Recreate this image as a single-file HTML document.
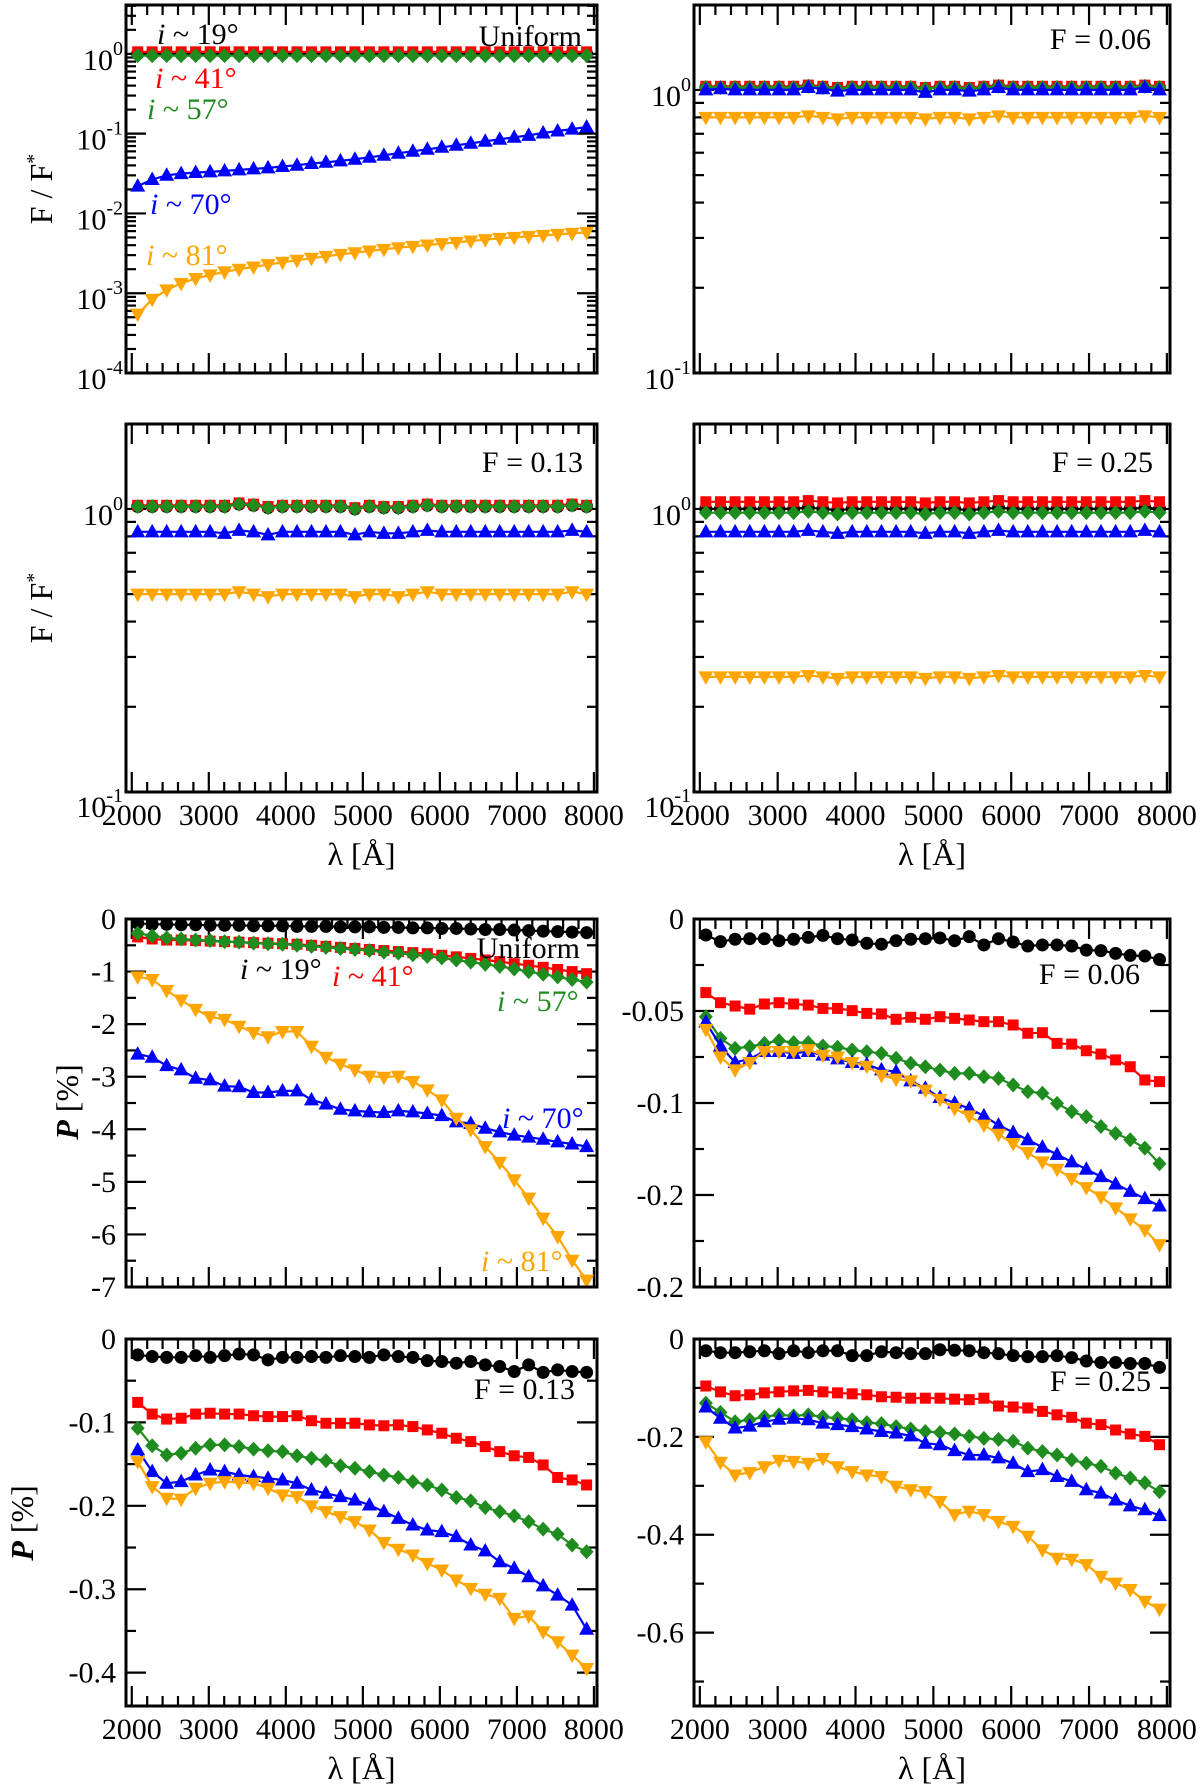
<!DOCTYPE html>
<html><head><meta charset="utf-8">
<style>
html,body{margin:0;padding:0;background:#fff;}
svg{display:block;font-family:"Liberation Serif",serif;}
</style></head>
<body>
<svg id="fig" width="1200" height="1786" viewBox="0 0 1200 1786" xmlns="http://www.w3.org/2000/svg"></svg>
<script>
// ---------- data ----------
const lambdas = [2077,2265,2453,2641,2829,3017,3205,3393,3581,3769,3957,4145,4333,4521,4709,4897,5085,5273,5461,5649,5837,6025,6213,6401,6589,6777,6965,7153,7341,7529,7717,7905];
const seriesNames = ["i19","i41","i57","i70","i81"];
const xTicks = [2000,3000,4000,5000,6000,7000,8000];

// Panel A: flux, uniform
const fluxUniBlack = [1,1,1,1,1,1,1,1,1,1,1,1,1,1,1,1,1,1,1,1,1,1,1,1,1,1,1,1,1,1,1,1];
const fluxUniRed = [1.06,1.06,1.06,1.06,1.06,1.06,1.06,1.06,1.06,1.06,1.06,1.06,1.06,1.06,1.06,1.06,1.06,1.06,1.06,1.06,1.06,1.06,1.06,1.06,1.06,1.06,1.06,1.06,1.06,1.06,1.06,1.06];
const fluxUniGreen = [0.95,0.95,0.95,0.95,0.95,0.95,0.95,0.95,0.95,0.95,0.95,0.95,0.95,0.95,0.95,0.95,0.95,0.95,0.95,0.95,0.95,0.95,0.95,0.95,0.95,0.95,0.95,0.95,0.95,0.95,0.95,0.95];
const fluxUniBlue = [0.0220,0.0266,0.0301,0.0316,0.0326,0.0332,0.0341,0.0351,0.0362,0.0372,0.0387,0.0402,0.0422,0.0438,0.0455,0.0478,0.0506,0.0536,0.0568,0.0601,0.0637,0.0675,0.0715,0.0757,0.0802,0.0850,0.0900,0.0953,0.102,0.108,0.114,0.121];
const fluxUniOrange = [0.000546,0.000841,0.00110,0.00133,0.00153,0.00169,0.00185,0.00200,0.00213,0.00228,0.00244,0.00259,0.00274,0.00290,0.00307,0.00322,0.00338,0.00355,0.00372,0.00387,0.00402,0.00418,0.00434,0.00451,0.00469,0.00487,0.00501,0.00516,0.00531,0.00546,0.00562,0.00579];

// Panel B: flux, F=0.06
const flux06Black = [1.02,1.02,1.02,1.02,1.02,1.02,1.02,1.03,1.02,1.01,1.02,1.02,1.02,1.02,1.02,1.01,1.02,1.02,1.01,1.02,1.03,1.02,1.02,1.02,1.02,1.02,1.02,1.02,1.02,1.02,1.03,1.02];
const flux06Red = [1.03,1.03,1.03,1.03,1.03,1.03,1.03,1.04,1.03,1.02,1.03,1.03,1.03,1.03,1.03,1.02,1.03,1.03,1.02,1.03,1.04,1.03,1.03,1.03,1.03,1.03,1.03,1.03,1.03,1.03,1.04,1.03];
const flux06Green = [1.02,1.02,1.02,1.02,1.02,1.02,1.02,1.03,1.02,1.01,1.02,1.02,1.02,1.02,1.02,1.01,1.02,1.02,1.01,1.02,1.03,1.02,1.02,1.02,1.02,1.02,1.02,1.02,1.02,1.02,1.03,1.02];
const flux06Blue = [1.00,1.01,1.00,1.00,1.00,1.00,1.00,1.02,1.01,0.99,1.00,1.00,1.00,1.00,1.00,0.98,1.00,1.00,0.99,1.00,1.02,1.00,1.00,1.00,1.00,1.00,1.00,1.00,1.00,1.00,1.02,1.00];
const flux06Orange = [0.80,0.80,0.80,0.80,0.80,0.80,0.80,0.81,0.80,0.79,0.80,0.80,0.80,0.80,0.80,0.79,0.80,0.80,0.79,0.80,0.81,0.80,0.80,0.80,0.80,0.80,0.80,0.80,0.80,0.80,0.81,0.80];

// Panel C: flux, F=0.13
const flux13Black = [1.02,1.02,1.02,1.02,1.02,1.02,1.02,1.04,1.03,1.01,1.02,1.02,1.02,1.02,1.02,1.00,1.02,1.01,1.01,1.02,1.03,1.02,1.02,1.02,1.02,1.02,1.02,1.02,1.02,1.02,1.03,1.02];
const flux13Red = [1.03,1.03,1.03,1.03,1.03,1.03,1.03,1.05,1.04,1.02,1.03,1.03,1.03,1.03,1.03,1.01,1.03,1.02,1.02,1.03,1.04,1.03,1.03,1.03,1.03,1.03,1.03,1.03,1.03,1.03,1.04,1.03];
const flux13Green = [1.02,1.02,1.02,1.02,1.02,1.02,1.02,1.04,1.03,1.01,1.02,1.02,1.02,1.02,1.02,1.00,1.02,1.01,1.01,1.02,1.03,1.02,1.02,1.02,1.02,1.02,1.02,1.02,1.02,1.02,1.03,1.02];
const flux13Blue = [0.83,0.83,0.83,0.83,0.83,0.83,0.82,0.84,0.83,0.81,0.83,0.83,0.83,0.83,0.83,0.81,0.83,0.82,0.82,0.83,0.84,0.83,0.83,0.83,0.83,0.83,0.83,0.83,0.83,0.83,0.84,0.83];
const flux13Orange = [0.50,0.50,0.50,0.50,0.50,0.50,0.50,0.51,0.50,0.49,0.50,0.50,0.50,0.50,0.50,0.49,0.50,0.50,0.49,0.50,0.51,0.50,0.50,0.50,0.50,0.50,0.50,0.50,0.50,0.50,0.51,0.50];

// Panel D: flux, F=0.25
const flux25Black = [1.00,1.00,1.00,1.00,1.00,1.00,1.00,1.01,1.00,0.99,1.00,1.00,1.00,1.00,1.00,0.99,1.00,1.00,0.99,1.00,1.01,1.00,1.00,1.00,1.00,1.00,1.00,1.00,1.00,1.00,1.01,1.00];
const flux25Red = [1.06,1.06,1.06,1.06,1.06,1.06,1.06,1.07,1.06,1.05,1.06,1.06,1.06,1.06,1.06,1.05,1.06,1.06,1.05,1.06,1.07,1.06,1.06,1.06,1.06,1.06,1.06,1.06,1.06,1.06,1.07,1.06];
const flux25Green = [0.97,0.97,0.97,0.97,0.97,0.97,0.97,0.98,0.97,0.96,0.97,0.97,0.97,0.97,0.97,0.96,0.97,0.97,0.96,0.97,0.98,0.97,0.97,0.97,0.97,0.97,0.97,0.97,0.97,0.97,0.98,0.97];
const flux25Blue = [0.83,0.83,0.83,0.83,0.83,0.83,0.83,0.84,0.83,0.82,0.83,0.83,0.83,0.83,0.83,0.82,0.83,0.83,0.82,0.83,0.84,0.83,0.83,0.83,0.83,0.83,0.83,0.83,0.83,0.83,0.84,0.83];
const flux25Orange = [0.255,0.255,0.255,0.255,0.255,0.255,0.255,0.258,0.255,0.252,0.255,0.255,0.255,0.255,0.255,0.252,0.255,0.255,0.252,0.255,0.258,0.255,0.255,0.255,0.255,0.255,0.255,0.255,0.255,0.255,0.258,0.255];

// Panel E: polarization, uniform
const polUniBlack = [-0.08,-0.10,-0.10,-0.11,-0.11,-0.12,-0.12,-0.12,-0.13,-0.13,-0.13,-0.14,-0.14,-0.14,-0.15,-0.15,-0.15,-0.16,-0.16,-0.17,-0.17,-0.18,-0.18,-0.19,-0.20,-0.20,-0.21,-0.22,-0.23,-0.24,-0.25,-0.26];
const polUniRed = [-0.34,-0.38,-0.40,-0.40,-0.41,-0.42,-0.43,-0.44,-0.45,-0.46,-0.47,-0.48,-0.50,-0.52,-0.54,-0.56,-0.58,-0.60,-0.62,-0.64,-0.66,-0.69,-0.72,-0.75,-0.78,-0.81,-0.85,-0.88,-0.92,-0.96,-1.00,-1.04];
const polUniGreen = [-0.27,-0.32,-0.36,-0.38,-0.40,-0.41,-0.43,-0.44,-0.46,-0.47,-0.48,-0.50,-0.52,-0.54,-0.56,-0.58,-0.60,-0.63,-0.65,-0.68,-0.71,-0.74,-0.78,-0.82,-0.86,-0.90,-0.95,-1.00,-1.05,-1.10,-1.15,-1.20];
const polUniBlue = [-2.57,-2.63,-2.79,-2.87,-3.03,-3.06,-3.18,-3.19,-3.30,-3.30,-3.27,-3.27,-3.44,-3.52,-3.62,-3.65,-3.67,-3.68,-3.65,-3.67,-3.70,-3.74,-3.86,-3.89,-3.98,-4.05,-4.11,-4.15,-4.19,-4.24,-4.28,-4.33];
const polUniOrange = [-1.10,-1.15,-1.36,-1.54,-1.72,-1.86,-1.91,-2.04,-2.16,-2.24,-2.14,-2.14,-2.42,-2.63,-2.76,-2.87,-2.99,-3.01,-2.99,-3.09,-3.25,-3.44,-3.79,-4.01,-4.33,-4.63,-4.96,-5.31,-5.69,-6.04,-6.49,-6.87];

// Panel F: polarization, F=0.06
const pol06Black = [-0.0087,-0.0123,-0.0110,-0.0107,-0.0107,-0.0118,-0.0110,-0.0100,-0.0089,-0.0107,-0.0114,-0.0132,-0.0137,-0.0118,-0.0110,-0.0107,-0.0103,-0.0118,-0.0096,-0.0141,-0.0107,-0.0125,-0.0147,-0.0141,-0.0141,-0.0147,-0.0169,-0.0172,-0.0187,-0.0198,-0.0201,-0.0220];
const pol06Red = [-0.0400,-0.0455,-0.0473,-0.0490,-0.0462,-0.0455,-0.0462,-0.0468,-0.0486,-0.0486,-0.0498,-0.0513,-0.0516,-0.0545,-0.0534,-0.0545,-0.0531,-0.0540,-0.0549,-0.0558,-0.0558,-0.0576,-0.0621,-0.0618,-0.0676,-0.0680,-0.0716,-0.0734,-0.0766,-0.0803,-0.0875,-0.0884];
const pol06Green = [-0.0531,-0.0649,-0.0703,-0.0694,-0.0676,-0.0661,-0.0672,-0.0672,-0.0690,-0.0697,-0.0712,-0.0721,-0.0730,-0.0757,-0.0784,-0.0803,-0.0821,-0.0839,-0.0839,-0.0857,-0.0866,-0.0902,-0.0938,-0.0947,-0.1002,-0.1047,-0.1075,-0.1128,-0.1165,-0.1200,-0.1245,-0.1330];
const pol06Blue = [-0.056,-0.069,-0.078,-0.076,-0.072,-0.072,-0.073,-0.072,-0.074,-0.076,-0.078,-0.079,-0.082,-0.083,-0.088,-0.092,-0.097,-0.100,-0.103,-0.107,-0.112,-0.116,-0.120,-0.124,-0.128,-0.132,-0.136,-0.140,-0.144,-0.148,-0.152,-0.156];
const pol06Orange = [-0.060,-0.075,-0.082,-0.078,-0.072,-0.072,-0.072,-0.071,-0.074,-0.075,-0.078,-0.080,-0.085,-0.087,-0.088,-0.093,-0.098,-0.103,-0.107,-0.112,-0.117,-0.122,-0.127,-0.132,-0.136,-0.141,-0.146,-0.151,-0.157,-0.163,-0.169,-0.177];

// Panel G: polarization, F=0.13
const pol13Black = [-0.019,-0.021,-0.022,-0.022,-0.020,-0.022,-0.020,-0.018,-0.019,-0.025,-0.022,-0.022,-0.021,-0.022,-0.020,-0.021,-0.022,-0.019,-0.021,-0.022,-0.026,-0.027,-0.029,-0.027,-0.031,-0.033,-0.039,-0.031,-0.040,-0.037,-0.039,-0.040];
const pol13Red = [-0.076,-0.090,-0.096,-0.095,-0.090,-0.089,-0.090,-0.090,-0.092,-0.093,-0.093,-0.092,-0.098,-0.101,-0.101,-0.101,-0.103,-0.104,-0.103,-0.105,-0.109,-0.113,-0.119,-0.123,-0.129,-0.135,-0.140,-0.142,-0.151,-0.166,-0.169,-0.175];
const pol13Green = [-0.107,-0.128,-0.139,-0.137,-0.131,-0.127,-0.127,-0.129,-0.132,-0.134,-0.135,-0.140,-0.143,-0.146,-0.152,-0.155,-0.159,-0.163,-0.166,-0.171,-0.175,-0.181,-0.190,-0.194,-0.202,-0.207,-0.212,-0.219,-0.228,-0.234,-0.247,-0.255];
const pol13Blue = [-0.133,-0.159,-0.173,-0.171,-0.163,-0.157,-0.159,-0.163,-0.165,-0.167,-0.169,-0.173,-0.181,-0.185,-0.189,-0.193,-0.199,-0.207,-0.215,-0.223,-0.229,-0.231,-0.237,-0.247,-0.254,-0.267,-0.275,-0.285,-0.296,-0.307,-0.319,-0.348];
const pol13Orange = [-0.147,-0.177,-0.191,-0.192,-0.179,-0.173,-0.171,-0.172,-0.173,-0.179,-0.187,-0.189,-0.200,-0.207,-0.213,-0.219,-0.229,-0.244,-0.252,-0.259,-0.269,-0.277,-0.289,-0.299,-0.306,-0.311,-0.335,-0.332,-0.351,-0.363,-0.379,-0.395];

// Panel H: polarization, F=0.25
const pol25Black = [-0.024,-0.028,-0.028,-0.026,-0.024,-0.030,-0.024,-0.028,-0.024,-0.024,-0.034,-0.034,-0.026,-0.028,-0.030,-0.030,-0.022,-0.023,-0.024,-0.028,-0.030,-0.034,-0.036,-0.036,-0.034,-0.038,-0.045,-0.048,-0.048,-0.050,-0.050,-0.058];
const pol25Red = [-0.096,-0.108,-0.116,-0.114,-0.110,-0.108,-0.106,-0.105,-0.108,-0.110,-0.112,-0.114,-0.118,-0.119,-0.121,-0.121,-0.121,-0.123,-0.124,-0.121,-0.137,-0.139,-0.141,-0.148,-0.155,-0.160,-0.172,-0.175,-0.186,-0.194,-0.199,-0.216];
const pol25Green = [-0.131,-0.150,-0.169,-0.165,-0.159,-0.155,-0.157,-0.155,-0.159,-0.162,-0.165,-0.171,-0.173,-0.179,-0.184,-0.189,-0.191,-0.194,-0.199,-0.203,-0.205,-0.209,-0.223,-0.230,-0.237,-0.247,-0.254,-0.260,-0.274,-0.284,-0.294,-0.312];
const pol25Blue = [-0.139,-0.162,-0.182,-0.178,-0.169,-0.164,-0.162,-0.165,-0.172,-0.175,-0.179,-0.184,-0.189,-0.192,-0.198,-0.213,-0.216,-0.228,-0.237,-0.237,-0.243,-0.254,-0.271,-0.267,-0.281,-0.291,-0.308,-0.315,-0.329,-0.341,-0.349,-0.361];
const pol25Orange = [-0.210,-0.252,-0.278,-0.273,-0.261,-0.248,-0.250,-0.254,-0.244,-0.261,-0.271,-0.278,-0.281,-0.301,-0.308,-0.312,-0.332,-0.359,-0.352,-0.359,-0.373,-0.383,-0.403,-0.431,-0.448,-0.450,-0.461,-0.485,-0.499,-0.512,-0.536,-0.552];

// ---------- rendering ----------
const NS = "http://www.w3.org/2000/svg";
const svg = document.getElementById("fig");
const COLORS = ["#000000","#ff0000","#1e8c1e","#0000ff","#ffa500"];
const MARKERS = ["circle","square","diamond","up","down"];
const X_DOM = [1925, 8040];
const TICK_FS = 30;

function mk(tag, attrs, parent){
  const e = document.createElementNS(NS, tag);
  for (const k in attrs) e.setAttribute(k, attrs[k]);
  (parent||svg).appendChild(e);
  return e;
}

const panels = [
  {id:"flux-uniform", col:0, y0:5, y1:373, log:true, ymin:-4, ymax:0.6125, series:[fluxUniBlack,fluxUniRed,fluxUniGreen,fluxUniBlue,fluxUniOrange], majors:[0,-1,-2,-3,-4], xlabels:false},
  {id:"flux-f006", col:1, y0:5, y1:373, log:true, ymin:-1, ymax:0.3, series:[flux06Black,flux06Red,flux06Green,flux06Blue,flux06Orange], majors:[0,-1], xlabels:false, note:"F = 0.06", noteX:1151, noteY:49},
  {id:"flux-f013", col:0, y0:424, y1:792, log:true, ymin:-1, ymax:0.3, series:[flux13Black,flux13Red,flux13Green,flux13Blue,flux13Orange], majors:[0,-1], xlabels:true, note:"F = 0.13", noteX:583, noteY:472},
  {id:"flux-f025", col:1, y0:424, y1:792, log:true, ymin:-1, ymax:0.3, series:[flux25Black,flux25Red,flux25Green,flux25Blue,flux25Orange], majors:[0,-1], xlabels:true, note:"F = 0.25", noteX:1153, noteY:472},
  {id:"pol-uniform", col:0, y0:919, y1:1287, log:false, ymin:-7, ymax:0, series:[polUniBlack,polUniRed,polUniGreen,polUniBlue,polUniOrange], majors:[0,-1,-2,-3,-4,-5,-6,-7], minorStep:0.5, labels:["0","-1","-2","-3","-4","-5","-6","-7"], xlabels:false},
  {id:"pol-f006", col:1, y0:919, y1:1287, log:false, ymin:-0.2, ymax:0, series:[pol06Black,pol06Red,pol06Green,pol06Blue,pol06Orange], majors:[0,-0.05,-0.1,-0.15,-0.2], minorStep:0.025, labels:["0","-0.05","-0.1","-0.2","-0.2"], xlabels:false, note:"F = 0.06", noteX:1140, noteY:984},
  {id:"pol-f013", col:0, y0:1339, y1:1706, log:false, ymin:-0.44, ymax:0, series:[pol13Black,pol13Red,pol13Green,pol13Blue,pol13Orange], majors:[0,-0.1,-0.2,-0.3,-0.4], minorStep:0.05, labels:["0","-0.1","-0.2","-0.3","-0.4"], xlabels:true, note:"F = 0.13", noteX:575, noteY:1399},
  {id:"pol-f025", col:1, y0:1339, y1:1706, log:false, ymin:-0.75, ymax:0, series:[pol25Black,pol25Red,pol25Green,pol25Blue,pol25Orange], majors:[0,-0.2,-0.4,-0.6], minorStep:0.1, labels:["0","-0.2","-0.4","-0.6"], xlabels:true, note:"F = 0.25", noteX:1151, noteY:1391}
];

const COLX = [[126,597],[694,1170]];

function drawMarker(g, type, cx, cy, color){
  let m;
  if (type==="circle") m = mk("circle",{cx:cx,cy:cy,r:6.5,fill:color},g);
  else if (type==="square") m = mk("rect",{x:cx-5.5,y:cy-5.5,width:11,height:11,fill:color},g);
  else if (type==="diamond") m = mk("polygon",{points:`${cx},${cy-7.5} ${cx+7},${cy} ${cx},${cy+7.5} ${cx-7},${cy}`,fill:color},g);
  else if (type==="up") m = mk("polygon",{points:`${cx},${cy-8} ${cx+7.5},${cy+5.5} ${cx-7.5},${cy+5.5}`,fill:color},g);
  else m = mk("polygon",{points:`${cx},${cy+8} ${cx+7.5},${cy-5.5} ${cx-7.5},${cy-5.5}`,fill:color},g);
  
  
}

panels.forEach(p=>{
  const x0 = COLX[p.col][0], x1 = COLX[p.col][1];
  const xs = v => x0 + (v - X_DOM[0])/(X_DOM[1]-X_DOM[0])*(x1-x0);
  const ys = v => {
    const t = p.log ? Math.log10(v) : v;
    return p.y1 - (t - p.ymin)/(p.ymax - p.ymin)*(p.y1 - p.y0);
  };
  const yl = t => p.y1 - (t - p.ymin)/(p.ymax - p.ymin)*(p.y1 - p.y0);
  const g = mk("g",{});
  
  

  const cid = "clip-" + p.id;
  const cp = mk("clipPath",{id:cid},g);
  mk("rect",{x:x0,y:p.y0,width:x1-x0,height:p.y1-p.y0},cp);

  const tg = mk("g",{stroke:"#000","stroke-width":2.2},g);
  
  
  for (let v=2000; v<=8000; v+=200){
    const X = xs(v);
    const len = (v%1000===0)?20:10;
    mk("line",{x1:X,y1:p.y1,x2:X,y2:p.y1-len},tg);
    mk("line",{x1:X,y1:p.y0,x2:X,y2:p.y0+len},tg);
  }
  const yg = mk("g",{stroke:"#000","stroke-width":2.2},g);
  
  
  const addYTick=(Y,len)=>{
    if (Y < p.y0-0.5 || Y > p.y1+0.5) return;
    mk("line",{x1:x0,y1:Y,x2:x0+len,y2:Y},yg);
    mk("line",{x1:x1,y1:Y,x2:x1-len,y2:Y},yg);
  };
  if (p.log){
    for (let d=Math.floor(p.ymin); d<=Math.ceil(p.ymax); d++){
      addYTick(yl(d),20);
      for (let k=2;k<=9;k++) addYTick(yl(d+Math.log10(k)),10);
    }
  } else {
    const n = Math.round((p.ymax-p.ymin)/p.minorStep);
    for (let i=0;i<=n;i++){
      const v = p.ymax - i*p.minorStep;
      const isMajor = p.majors.some(m=>Math.abs(m-v)<1e-9);
      addYTick(yl(v), isMajor?20:10);
    }
  }

  const lg = mk("g",{"font-size":TICK_FS,"text-anchor":"end",fill:"#000"},g);
  
  
  p.majors.forEach((m,i)=>{
    const Y = yl(m);
    if (p.log){
      const off = (p.xlabels && m===-1) ? 25 : 16;
      const t = mk("text",{x:x0-3,y:Y+off},lg);
      t.appendChild(document.createTextNode("10"));
      const s = mk("tspan",{dy:-15,"font-size":20},t);
      s.textContent = String(m);
    } else {
      const t = mk("text",{x:x0-10,y:Y+10},lg);
      t.textContent = p.labels[i];
    }
  });

  if (p.xlabels){
    const xg = mk("g",{"font-size":TICK_FS,"text-anchor":"middle"},g);
    
    
    xTicks.forEach(v=>{
      const t = mk("text",{x:xs(v),y:p.y1+33},xg);
      t.textContent = String(v);
    });
    const xt = mk("text",{x:(x0+x1)/2,y:p.y1+73,"font-size":32,"text-anchor":"middle"},g);
    
    
    xt.textContent = "λ [Å]";
  }

  const sg = mk("g",{"clip-path":`url(#${cid})`},g);
  p.series.forEach((arr,si)=>{
    const lineG = mk("g",{},sg);
    
    
    const pts = arr.map((v,i)=>`${xs(lambdas[i]).toFixed(1)},${ys(v).toFixed(1)}`).join(" ");
    mk("polyline",{points:pts,fill:"none",stroke:COLORS[si],"stroke-width":2.2},lineG);
    arr.forEach((v,i)=>drawMarker(lineG, MARKERS[si], xs(lambdas[i]), ys(v), COLORS[si]));
  });

  const fr = mk("rect",{x:x0,y:p.y0,width:x1-x0,height:p.y1-p.y0,fill:"none",stroke:"#000","stroke-width":3},g);
  
  

  if (p.note){
    const nt = mk("text",{x:p.noteX,y:p.noteY,"font-size":TICK_FS,"text-anchor":"end"},g);
    
    
    nt.textContent = p.note;
  }
});
</script>

<svg style="position:absolute;left:0;top:0" width="1200" height="1786" viewBox="0 0 1200 1786" font-family="Liberation Serif, serif">
  <g font-size="30">
    <text x="582" y="46" text-anchor="end">Uniform</text>
    <text x="157" y="44"><tspan font-style="italic">i</tspan> ~ 19°</text>
    <text x="155" y="88" fill="#ff0000"><tspan font-style="italic">i</tspan> ~ 41°</text>
    <text x="147" y="119" fill="#1e8c1e"><tspan font-style="italic">i</tspan> ~ 57°</text>
    <text x="150" y="214" fill="#0000ff"><tspan font-style="italic">i</tspan> ~ 70°</text>
    <text x="146" y="265" fill="#ffa500"><tspan font-style="italic">i</tspan> ~ 81°</text>

    <text x="580" y="958" text-anchor="end">Uniform</text>
    <text x="240" y="979"><tspan font-style="italic">i</tspan> ~ 19°</text>
    <text x="332" y="986" fill="#ff0000"><tspan font-style="italic">i</tspan> ~ 41°</text>
    <text x="497" y="1011" fill="#1e8c1e"><tspan font-style="italic">i</tspan> ~ 57°</text>
    <text x="502" y="1128" fill="#0000ff"><tspan font-style="italic">i</tspan> ~ 70°</text>
    <text x="481" y="1271" fill="#ffa500"><tspan font-style="italic">i</tspan> ~ 81°</text>
  </g>
  <g font-size="32" text-anchor="middle">
    <text transform="translate(52,189) rotate(-90)">F / F<tspan font-size="20" dy="-12">*</tspan></text>
    <text transform="translate(52,608) rotate(-90)">F / F<tspan font-size="20" dy="-12">*</tspan></text>
    <text transform="translate(78,1102) rotate(-90)"><tspan font-style="italic" font-weight="bold">P</tspan> [%]</text>
    <text transform="translate(33,1523) rotate(-90)"><tspan font-style="italic" font-weight="bold">P</tspan> [%]</text>
  </g>
</svg>
</body></html>
